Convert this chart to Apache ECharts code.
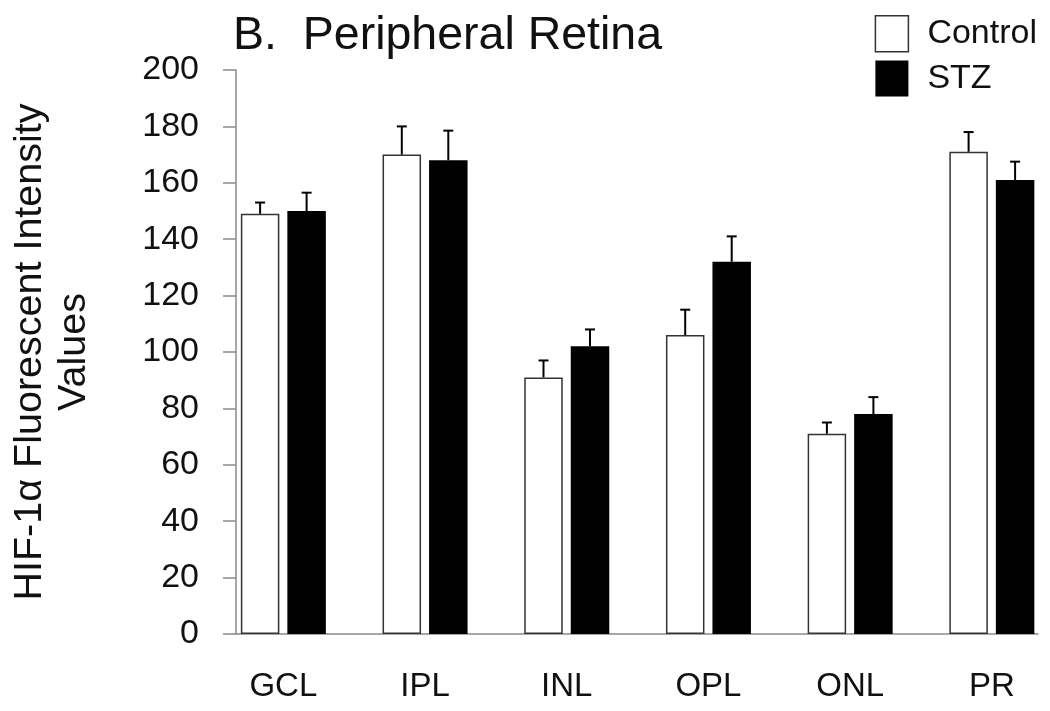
<!DOCTYPE html>
<html>
<head>
<meta charset="utf-8">
<script src="https://cdn.jsdelivr.net/npm/echarts@6/dist/echarts.min.js"></script>
<style>
  html, body { margin: 0; padding: 0; background: #ffffff; }
  #chart { width: 1050px; height: 711px; }
</style>
</head>
<body>
<div id="chart"></div>
<script>
// ---- data ----
const categories = ['GCL', 'IPL', 'INL', 'OPL', 'ONL', 'PR'];
const controlValues = [149, 170, 91, 106, 71, 171];
const stzValues = [150, 168, 102, 132, 78, 161];
const controlErr = [4, 10, 6, 9, 4, 7];
const stzErr = [6.5, 10.5, 6, 9, 6, 6.5];
const seriesNames = ['Control', 'STZ'];
const yTicks = { min: 0, max: 200, interval: 20 };

// ---- styling constants ----
const FONT = "'Liberation Sans', Arial, Helvetica, sans-serif";
const BAR_W = 38.5;
const BAR_GAP_PX = 8;
const AXIS_GREY = '#8a8a8a';
const PLOT_TOP = 70, PLOT_BOTTOM = 77;

const chart = echarts.init(document.getElementById('chart'), null, { renderer: 'canvas' });

function errorRenderer(values, errs, sign) {
  return function (params, api) {
    const i = api.value(0);
    const v = values[i];
    const e = errs[i];
    const off = sign * (BAR_W + BAR_GAP_PX) / 2;
    const base = api.coord([i, v]);
    const top = api.coord([i, v + e]);
    const x = base[0] + off;
    const cap = 5;
    const st = { stroke: '#000', lineWidth: 2 };
    return {
      type: 'group',
      children: [
        { type: 'line', shape: { x1: x, y1: base[1], x2: x, y2: top[1] }, style: st },
        { type: 'line', shape: { x1: x - cap, y1: top[1], x2: x + cap, y2: top[1] }, style: st }
      ]
    };
  };
}

const idx = categories.map((c, i) => i);

chart.setOption({
  animation: false,
  backgroundColor: '#ffffff',
  title: {
    text: 'B.  Peripheral Retina',
    left: 228, top: 8,
    textStyle: { fontFamily: FONT, fontSize: 46.5, fontWeight: 'normal', color: '#111' }
  },
  legend: {
    orient: 'vertical',
    right: 8, top: 10,
    icon: 'rect',
    itemWidth: 33, itemHeight: 36, itemGap: 8,
    data: [
      { name: seriesNames[0], itemStyle: { color: '#ffffff', borderColor: '#333', borderWidth: 1.5 } },
      { name: seriesNames[1], itemStyle: { color: '#000000' } }
    ],
    textStyle: { fontFamily: FONT, fontSize: 34, color: '#111', padding: [0, 0, 0, 14] },
    selectedMode: false
  },
  grid: [
    { left: 212.5, right: -12.7, top: PLOT_TOP, bottom: PLOT_BOTTOM, outerBoundsMode: 'none', containLabel: false },
    { left: 236, right: 12, top: PLOT_TOP, bottom: PLOT_BOTTOM, outerBoundsMode: 'none', containLabel: false }
  ],
  xAxis: [
    {
      type: 'category', gridIndex: 0, data: categories,
      axisLine: { show: false }, axisTick: { show: false },
      axisLabel: { fontFamily: FONT, fontSize: 33, color: '#111', margin: 36 }
    },
    {
      type: 'value', gridIndex: 1, min: 0, max: 1,
      axisLine: { show: true, lineStyle: { color: AXIS_GREY, width: 1.5 } },
      axisTick: { show: false }, axisLabel: { show: false }, splitLine: { show: false }
    }
  ],
  yAxis: [
    {
      type: 'value', gridIndex: 0, min: yTicks.min, max: yTicks.max, interval: yTicks.interval,
      show: false
    },
    {
      type: 'value', gridIndex: 1, min: yTicks.min, max: yTicks.max, interval: yTicks.interval,
      name: 'HIF-1α Fluorescent Intensity\nValues',
      nameLocation: 'middle', nameGap: 140,
      nameTextStyle: { fontFamily: FONT, fontSize: 39.5, color: '#111', lineHeight: 44 },
      axisLine: { show: true, lineStyle: { color: AXIS_GREY, width: 1.5 } },
      axisTick: { show: true, inside: false, length: 13, lineStyle: { color: AXIS_GREY, width: 1.5 } },
      axisLabel: { fontFamily: FONT, fontSize: 34, color: '#111', margin: 37 },
      splitLine: { show: false }
    }
  ],
  series: [
    {
      name: seriesNames[0], type: 'bar', xAxisIndex: 0, yAxisIndex: 0,
      data: controlValues, barWidth: BAR_W, barGap: (BAR_GAP_PX / BAR_W * 100) + '%',
      itemStyle: { color: '#ffffff', borderColor: '#333', borderWidth: 1.5 }
    },
    {
      name: seriesNames[1], type: 'bar', xAxisIndex: 0, yAxisIndex: 0,
      data: stzValues, barWidth: BAR_W,
      itemStyle: { color: '#000000' }
    },
    {
      type: 'custom', xAxisIndex: 0, yAxisIndex: 0, silent: true, z: 5,
      data: idx.map(i => [i]),
      renderItem: errorRenderer(controlValues, controlErr, -1)
    },
    {
      type: 'custom', xAxisIndex: 0, yAxisIndex: 0, silent: true, z: 5,
      data: idx.map(i => [i]),
      renderItem: errorRenderer(stzValues, stzErr, 1)
    }
  ]
});
</script>
</body>
</html>
